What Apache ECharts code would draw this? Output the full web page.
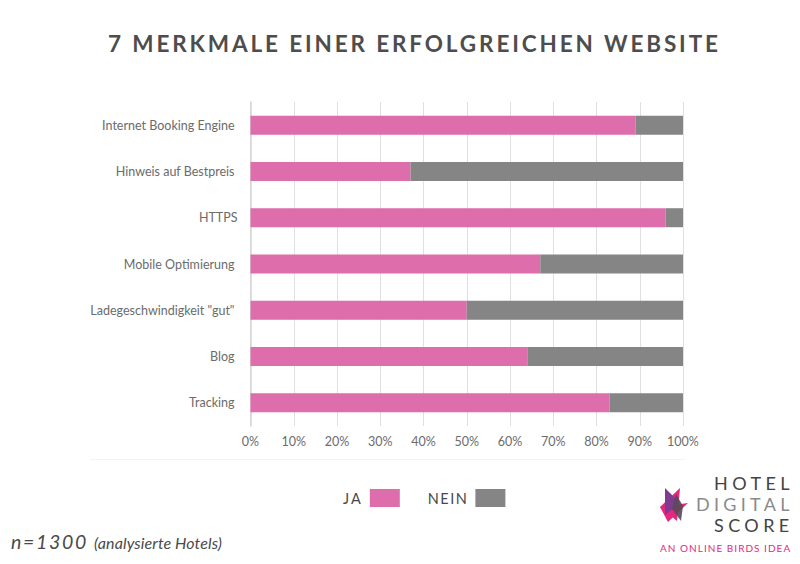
<!DOCTYPE html>
<html>
<head>
<meta charset="utf-8">
<title>7 Merkmale einer erfolgreichen Website</title>
<script src="https://cdn.jsdelivr.net/npm/echarts@6/dist/echarts.min.js"></script>
<style>
  html, body { margin: 0; padding: 0; background: #fff; }
  #main { width: 800px; height: 564px; }
</style>
</head>
<body>
<div id="main"></div>
<script>
const categories = [
  "Internet Booking Engine",
  "Hinweis auf Bestpreis",
  "HTTPS",
  "Mobile Optimierung",
  'Ladegeschwindigkeit "gut"',
  "Blog",
  "Tracking",
];
const jaValues = [89, 37, 96, 67, 50, 64, 83];
const neinValues = [11, 63, 4, 33, 50, 36, 17];

const font = "Lato";
const dark = "#4a4a4a";

// letter spacing in px, applied to the svg text nodes after render
const spacing = {
  "7 MERKMALE EINER ERFOLGREICHEN WEBSITE": 2.87,
  "JA": 2,
  "NEIN": 1.5,
  "n=1300": 1.7,
  "(analysierte Hotels)": 0.1,
  "HOTEL": 4.4,
  "DIGITAL": 4.3,
  "SCORE": 4.4,
  "AN ONLINE BIRDS IDEA": 1.03,
};

function label(text, x, y, size, extra) {
  return {
    type: "text",
    x: x,
    y: y,
    silent: true,
    style: Object.assign(
      { text: text, fontFamily: font, fontSize: size, fill: dark, textVerticalAlign: "middle" },
      extra,
    ),
  };
}

function shape(points, fill, opacity) {
  return {
    type: "polygon",
    silent: true,
    shape: { points: points },
    style: { fill: fill, opacity: opacity },
  };
}

const myChart = echarts.init(document.getElementById("main"), null, { renderer: "svg" });

myChart.setOption({
  animation: false,
  backgroundColor: "#fff",
  textStyle: { fontFamily: font },
  grid: { left: 250.5, right: 117, top: 102, bottom: 138 },
  legend: {
    left: 347,
    top: 489,
    padding: 0,
    align: "right",
    itemWidth: 30,
    itemHeight: 18,
    itemGap: 34,
    icon: "rect",
    selectedMode: false,
    textStyle: { fontFamily: font, fontSize: 14.5, color: dark, padding: [0, 2, 0, 0] },
    data: ["JA", "NEIN"],
  },
  xAxis: {
    type: "value",
    min: 0,
    max: 100,
    interval: 10,
    axisLine: { show: false },
    axisTick: { show: false },
    axisLabel: { formatter: "{value}%", fontFamily: font, fontSize: 12.5, color: "#6b6b6b", margin: 9 },
    splitLine: { lineStyle: { color: "#e0e0e0", width: 1 } },
  },
  yAxis: {
    type: "category",
    inverse: true,
    data: categories,
    axisLine: { lineStyle: { color: "#d4d4d4", width: 1.5 } },
    axisTick: { show: false },
    axisLabel: {
      fontFamily: font,
      fontSize: 12.5,
      color: "#6b6b6b",
      margin: 13,
      // only HTTPS sits flush in the reference, the others end 3px earlier
      formatter: (name) => (name === "HTTPS" ? name : `{p|${name}}`),
      rich: { p: { fontFamily: font, fontSize: 12.5, color: "#6b6b6b", padding: [0, 3, 0, 0] } },
    },
  },
  series: [
    {
      name: "JA",
      type: "bar",
      stack: "total",
      barWidth: 19,
      itemStyle: { color: "#dd6dab" },
      data: jaValues,
    },
    {
      name: "NEIN",
      type: "bar",
      stack: "total",
      barWidth: 19,
      itemStyle: { color: "#858585" },
      data: neinValues,
    },
  ],
  graphic: [
    label("7 MERKMALE EINER ERFOLGREICHEN WEBSITE", 108, 43, 22.5, { fontWeight: "bold", fill: "#4d4d4d" }),
    label("n=1300", 11, 541, 19.5, { fontStyle: "italic" }),
    label("(analysierte Hotels)", 94, 542, 16, { fontStyle: "italic" }),
    // faint rule under the axis labels
    {
      type: "line",
      silent: true,
      shape: { x1: 90, y1: 459.5, x2: 685, y2: 459.5 },
      style: { stroke: "#f3f3f3", lineWidth: 1 },
    },
    // logo
    shape([[680, 488], [660, 507], [677, 521]], "#e5277f", 1),
    shape([[660, 507], [688, 503], [668, 522]], "#e5277f", 1),
    shape([[665, 488], [665, 515], [680, 503]], "#7d3c8f", 1),
    shape([[676, 494], [683, 506], [681, 521], [672, 509]], "#5a4a55", 0.9),
    label("HOTEL", 714, 483, 18, { fill: "#444" }),
    label("DIGITAL", 696, 504, 18, { fill: "#8a8a8a" }),
    label("SCORE", 714, 525, 18, { fill: "#444" }),
    label("AN ONLINE BIRDS IDEA", 660, 548, 10, { fill: "#e5277f" }),
  ],
});

document.querySelectorAll("#main svg text").forEach(function (node) {
  const gap = spacing[node.textContent];
  if (gap) node.style.letterSpacing = gap + "px";
});
</script>
</body>
</html>
